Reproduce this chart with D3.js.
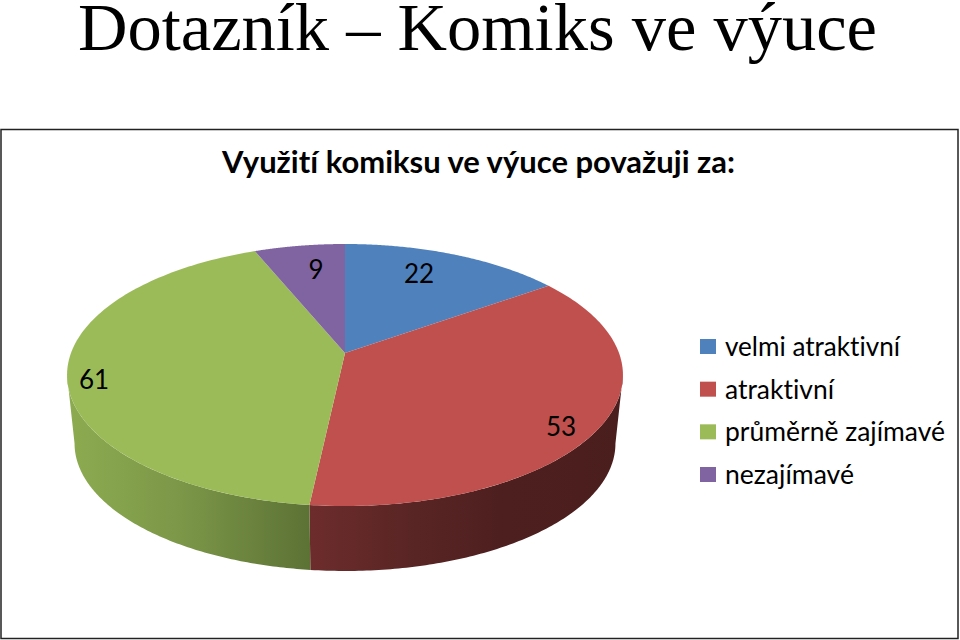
<!DOCTYPE html>
<html>
<head>
<meta charset="utf-8">
<script src="https://cdn.jsdelivr.net/npm/d3@7"></script>
<style>
    html, body { margin: 0; padding: 0; background: #fff; }
    svg { display: block; }
    text { fill: #000; font-variant-ligatures: none; }
    .label { font-family: Lato, "Open Sans", sans-serif; font-size: 26px; }
    .legendText { font-family: Lato, "Open Sans", sans-serif; font-size: 27px; }
</style>
</head>
<body>
<div id="chart"></div>
<script>
// Chart data
var categories = ["velmi atraktivní", "atraktivní", "průměrně zajímavé", "nezajímavé"];
var values = [22, 53, 61, 9];
var colors = ["#4f81bd", "#c0504d", "#9bbb59", "#8064a2"];

var pageTitle = "Dotazník – Komiks ve výuce";
var chartTitle = "Využití komiksu ve výuce považuji za:";

var svg = d3.select("#chart").append("svg")
    .attr("width", 960)
    .attr("height", 640);

// Page title + frame
svg.append("text")
    .attr("x", 78)
    .attr("y", 50)
    .attr("textLength", 799)
    .attr("lengthAdjust", "spacingAndGlyphs")
    .style("font-family", "'Liberation Serif', serif")
    .style("font-size", "68px")
    .text(pageTitle);

svg.append("rect")
    .attr("x", 1)
    .attr("y", 129.5)
    .attr("width", 957)
    .attr("height", 509)
    .attr("fill", "#fff")
    .attr("stroke", "#222")
    .attr("stroke-width", 1.5);

svg.append("text")
    .attr("x", 222)
    .attr("y", 173)
    .attr("textLength", 513)
    .attr("lengthAdjust", "spacingAndGlyphs")
    .style("font-family", "Lato, 'Open Sans', sans-serif")
    .style("font-weight", "700")
    .style("font-size", "31px")
    .text(chartTitle);

// Tilted disc: perspective projection of the unit circle
var cx = 345, cy = 353;
var radiusX = 274, radiusY = 127.3, persp = 0.168;
var ellipseCy = 375, wallDrop = 68.5, wallScale = 0.973;

// The wall only shows between the left and right extremes of the disc
var wallFrom = Math.acos(-persp);
var wallTo = 2 * Math.PI - wallFrom;

function topPoint(angle, r) {
    var u = r * Math.sin(angle), v = -r * Math.cos(angle);
    var w = 1 - persp * v;
    return [cx + radiusX * u / w, cy + radiusY * v / w];
}

function bottomPoint(angle) {
    var p = topPoint(angle, 1);
    return [cx + (p[0] - cx) * wallScale, ellipseCy + wallDrop + (p[1] - ellipseCy) * wallScale];
}

function arcAngles(start, end) {
    return d3.range(0, 121).map(i => start + (end - start) * i / 120);
}

var pie = d3.pie().sort(null);
var arcs = pie(values);
var line = d3.line();

// Side wall shading goes from lit on the left to dark on the right
var defs = svg.append("defs");
var wallStops = [
    [[310, "#2f4a6b"], [550, "#2f4a6b"]],
    [[310, "#6d2c2c"], [400, "#5b2625"], [500, "#4e1f1f"], [620, "#4b1e1e"]],
    [[70, "#8cab50"], [180, "#7c9748"], [310, "#5c7235"]],
    [[255, "#4a3a60"], [345, "#4a3a60"]]
];

wallStops.forEach(function(stops, i) {
    var grad = defs.append("linearGradient")
        .attr("id", "wall" + i)
        .attr("gradientUnits", "userSpaceOnUse")
        .attr("x1", stops[0][0])
        .attr("x2", stops[stops.length - 1][0])
        .attr("y1", 0)
        .attr("y2", 0);
    var offset = d3.scaleLinear()
        .domain([stops[0][0], stops[stops.length - 1][0]])
        .range([0, 1]);
    stops.forEach(function(s) {
        grad.append("stop").attr("offset", offset(s[0])).attr("stop-color", s[1]);
    });
});

// Walls first, the top face paints over the seam
svg.append("g").selectAll("path")
    .data(arcs)
    .enter()
    .append("path")
    .attr("d", function(d) {
        var start = Math.max(d.startAngle, wallFrom);
        var end = Math.min(d.endAngle, wallTo);
        if (end <= start) return null;
        var angles = arcAngles(start, end);
        var upper = angles.map(a => topPoint(a, 1));
        var lower = angles.map(bottomPoint).reverse();
        return line(upper.concat(lower)) + "Z";
    })
    .attr("fill", (d, i) => "url(#wall" + i + ")");

svg.append("g").selectAll("path")
    .data(arcs)
    .enter()
    .append("path")
    .attr("d", function(d) {
        var rim = arcAngles(d.startAngle, d.endAngle).map(a => topPoint(a, 1));
        return line([topPoint(0, 0)].concat(rim)) + "Z";
    })
    .attr("fill", (d, i) => colors[i]);

// Data labels, hand placed as the best fit in the original
var labelX = [419, 561, 94, 316];
var labelY = [283, 436, 389, 279];

svg.append("g").selectAll("text")
    .data(values)
    .enter()
    .append("text")
    .attr("class", "label")
    .attr("x", (d, i) => labelX[i])
    .attr("y", (d, i) => labelY[i])
    .attr("text-anchor", "middle")
    .text(d => d);

// Legend
var legendY = d3.scalePoint()
    .domain(categories)
    .range([339, 467]);
var legendWidths = [175, 109, 220, 129];

var legend = svg.append("g").selectAll("g")
    .data(categories)
    .enter()
    .append("g")
    .attr("transform", d => `translate(700, ${legendY(d)})`);

legend.append("rect")
    .attr("width", 16)
    .attr("height", 15)
    .attr("fill", (d, i) => colors[i]);

legend.append("text")
    .attr("class", "legendText")
    .attr("x", 25)
    .attr("y", 17)
    .attr("textLength", (d, i) => legendWidths[i])
    .attr("lengthAdjust", "spacingAndGlyphs")
    .text(d => d);
</script>
</body>
</html>
